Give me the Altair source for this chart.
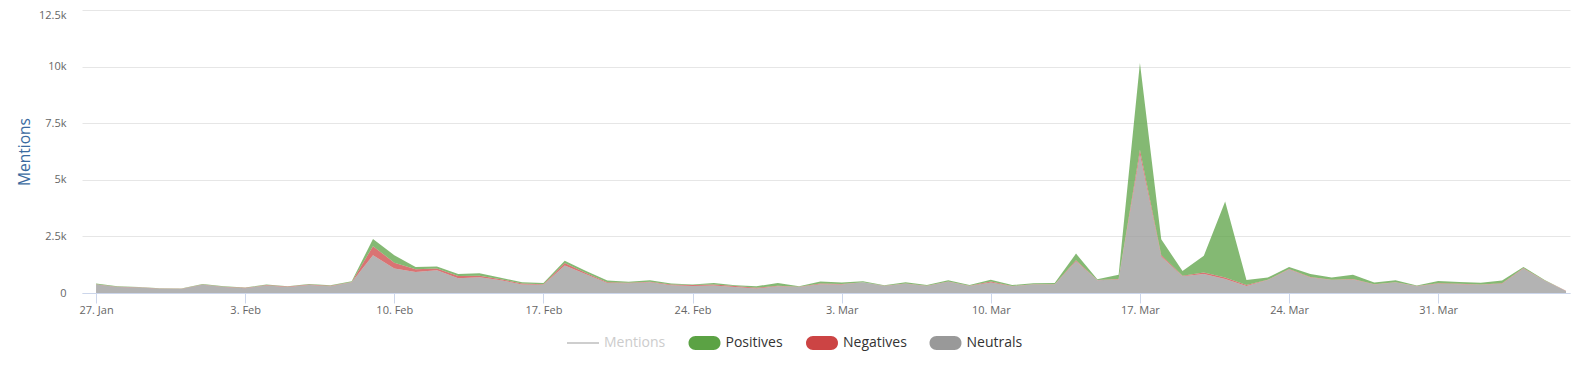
import altair as alt
import pandas as pd

# ---- data (mentions per day, 27 Jan 2019 -> 6 Apr 2019) ----
start_date = "2019-01-27"
neutrals = [380, 270, 240, 190, 180, 360, 260, 210, 330, 270,
            350, 300, 470, 1670, 1080, 930, 1000, 650, 700, 560,
            380, 360, 1220, 830, 440, 430, 470, 340, 310, 330,
            270, 200, 300, 270, 390, 380, 470, 310, 410, 310,
            500, 310, 460, 300, 380, 380, 1400, 560, 600, 6130,
            1610, 740, 840, 620, 310, 570, 1040, 690, 570, 600,
            380, 460, 300, 410, 390, 360, 410, 1080, 540, 90]
negatives = [10, 10, 10, 10, 10, 20, 20, 20, 20, 20,
             30, 20, 20, 400, 260, 120, 80, 100, 60, 50,
             40, 30, 110, 50, 30, 20, 30, 30, 40, 50,
             40, 30, 20, 10, 30, 20, 10, 10, 10, 10,
             10, 10, 50, 10, 10, 10, 50, 10, 20, 200,
             70, 20, 60, 60, 40, 10, 20, 20, 20, 20,
             10, 10, 10, 20, 20, 20, 20, 20, 10, 5]
positives = [30, 20, 20, 10, 10, 20, 20, 10, 20, 10,
             20, 20, 30, 310, 330, 100, 90, 90, 110, 60,
             50, 50, 90, 90, 80, 50, 60, 50, 30, 60,
             30, 70, 120, 20, 90, 60, 40, 20, 50, 30,
             50, 30, 80, 40, 40, 50, 290, 40, 190, 3830,
             690, 210, 750, 3360, 220, 100, 90, 130, 90, 190,
             70, 90, 20, 100, 80, 70, 120, 50, 20, 5]

series_names = ["Neutrals", "Negatives", "Positives"]  # stack order, bottom first
legend_names = ["Mentions", "Positives", "Negatives", "Neutrals"]
legend_colors = ["#cccccc", "#5ba244", "#cc4444", "#999999"]
tick_dates = [(1, 27), (2, 3), (2, 10), (2, 17), (2, 24),
              (3, 3), (3, 10), (3, 17), (3, 24), (3, 31)]
y_ticks = [0, 2500, 5000, 7500, 10000, 12500]

dates = pd.date_range(start_date, periods=len(neutrals), freq="D")
rows = []
for i, d in enumerate(dates):
    for rank, (name, vals) in enumerate(zip(series_names, [neutrals, negatives, positives])):
        rows.append({"date": d.strftime("%Y-%m-%dT00:00:00"),
                     "series": name, "value": vals[i], "rank": rank})
df = pd.DataFrame(rows)

FONT = "Open Sans"
pill = ("M-0.5625,-0.4375H0.5625A0.4375,0.4375,0,0,1,0.5625,0.4375"
        "H-0.5625A0.4375,0.4375,0,0,1,-0.5625,-0.4375Z")
line_sym = "M-1,-0.06H1V0.06H-1Z"

x_domain = [alt.DateTime(year=2019, month=1, date=26, hours=8, minutes=10),
            alt.DateTime(year=2019, month=4, date=6, hours=4, minutes=30)]

chart = alt.Chart(df).mark_area(fillOpacity=0.75, interpolate="linear").encode(
    x=alt.X("date:T",
            scale=alt.Scale(domain=x_domain),
            axis=alt.Axis(values=[alt.DateTime(year=2019, month=m, date=d) for m, d in tick_dates],
                          format="%-d. %b", grid=False, domainColor="#ccd6eb",
                          tickColor="#ccd6eb", tickSize=10, labelColor="#666666",
                          labelFontSize=11, labelPadding=1, labelFont=FONT,
                          labelFlush=False, labelOverlap=False),
            title=None),
    y=alt.Y("value:Q", stack="zero",
            scale=alt.Scale(domain=[0, 12500], nice=False),
            axis=alt.Axis(values=y_ticks,
                          labelExpr="datum.value == 0 ? '0' : format(datum.value / 1000, '~') + 'k'",
                          labelOffset=alt.ExprRef("datum.value == 12500 ? 5 : 0"),
                          domain=False, ticks=False, tickSize=0, labelPadding=16,
                          gridColor="#e6e6e6", labelColor="#666666", labelFontSize=11,
                          labelFont=FONT, titleColor="#3b6aa0", titleFontSize=15.5,
                          titleFont=FONT, titleFontWeight="normal", titleAngle=270,
                          titleX=-58, titleY=141.5, titleAlign="center",
                          titleBaseline="middle"),
            title="Mentions"),
    color=alt.Color("series:N",
                    scale=alt.Scale(domain=legend_names, range=legend_colors),
                    legend=alt.Legend(title=None, orient="none", direction="horizontal",
                                      columns=4, legendX=485, legendY=317,
                                      symbolSize=1024, symbolOpacity=1,
                                      symbolType=alt.ExprRef(
                                          f"datum.label == 'Mentions' ? '{line_sym}' : '{pill}'"),
                                      symbolStrokeWidth=0,
                                      labelColor=alt.ExprRef(
                                          "datum.label == 'Mentions' ? '#cccccc' : '#333333'"),
                                      labelFontSize=14, labelFont=FONT, labelOffset=5,
                                      columnPadding=22.5)),
    order=alt.Order("rank:Q", sort="ascending"),
).properties(
    width=1488, height=283,
    autosize=alt.AutoSizeParams(type="none"),
    padding={"left": 74, "top": 2, "right": 14, "bottom": 72},
).configure(background="white", font=FONT).configure_view(stroke=None, strokeWidth=0)

chart.save("out.html", embed_options={"renderer": "svg", "actions": False})
